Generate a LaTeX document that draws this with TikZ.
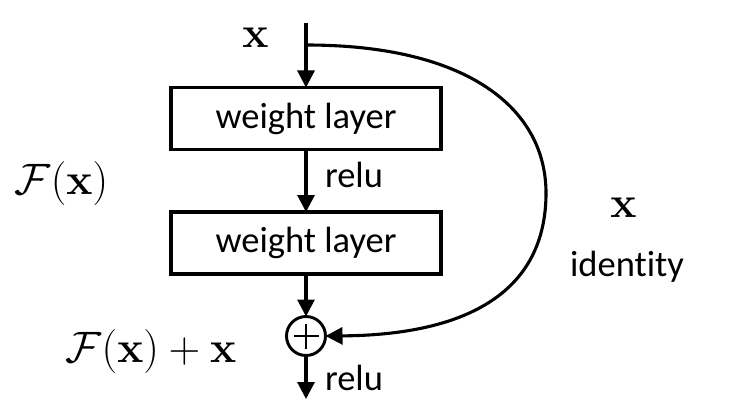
\RequirePackage{fix-cm}
\documentclass[tikz,border=0pt]{standalone}
\usepackage[no-math]{fontspec}
\setsansfont{Carlito}[Ligatures={NoCommon}]
\usepackage{amsmath}
\usetikzlibrary{arrows.meta}
\begin{document}
\begin{tikzpicture}[x=1pt,y=-1pt,
  every node/.style={inner sep=0pt, outer sep=0pt},
  line/.style={line width=3.1pt},
  arr/.style={line, -{Triangle[length=17pt,width=17pt]}},
  layerbox/.style={draw, line width=3.1pt, minimum width=270pt, minimum height=62pt,
    font=\sffamily\fontsize{36.5}{44}\selectfont},
  lbl/.style={font=\sffamily\fontsize{36.5}{44}\selectfont, anchor=base west},
  mathlbl/.style={font=\fontsize{44}{52}\selectfont, anchor=base}]
\useasboundingbox (0,0) rectangle (730,414);
\coordinate (top) at (306,23);
\coordinate (split) at (306,45);
\node[layerbox] (wl1) at (306,118.5) {weight layer};
\node[layerbox] (wl2) at (306,243) {weight layer};
\node[circle, draw, line width=2.9pt, minimum size=39pt] (plus) at (306,336) {};
\coordinate (out) at (306,399);
\draw[line width=2.9pt] ([xshift=-12.5pt]plus.center) -- ([xshift=12.5pt]plus.center);
\draw[line width=2.9pt] ([yshift=-12.5pt]plus.center) -- ([yshift=12.5pt]plus.center);
\draw[arr] (top) -- (wl1.north);
\draw[arr] (wl1) -- (wl2);
\draw[arr] (wl2) -- (plus);
\draw[arr] (plus) -- (out);
\draw[arr] (split) .. controls (470,45) and (546,110) .. (546,193)
  .. controls (546,290) and (470,335) .. (plus.east);
\node[mathlbl] (xin) at (255.5,48) {$\mathbf{x}$};
\node[mathlbl] (fx) at (61.5,194) {$\mathcal{F}(\mathbf{x})$};
\node[mathlbl] (fxx) at (151,362) {$\mathcal{F}(\mathbf{x})+\mathbf{x}$};
\node[mathlbl] (xid) at (623.5,217) {$\mathbf{x}$};
\node[lbl, anchor=base] (ident) at (627,276) {identity};
\node[lbl] (relu1) at (325,187) {relu};
\node[lbl] (relu2) at (325,390) {relu};
\end{tikzpicture}
\end{document}
